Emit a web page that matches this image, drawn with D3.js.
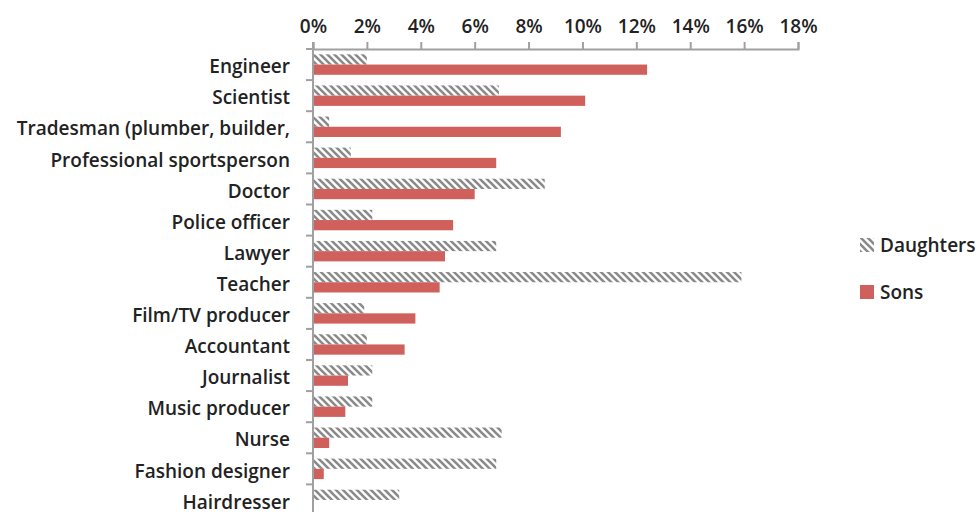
<!DOCTYPE html>
<html><head><meta charset="utf-8">
<script src="https://cdn.jsdelivr.net/npm/d3@7"></script>
<style>
body{margin:0;background:#fff;}
svg{display:block;}
text{font-family:"Open Sans",Lato,sans-serif;fill:#222;font-weight:600;}
</style></head>
<body>
<svg id="chart" width="978" height="512"></svg>
<script>
const categories = ["Engineer","Scientist","Tradesman (plumber, builder,","Professional sportsperson","Doctor","Police officer","Lawyer","Teacher","Film/TV producer","Accountant","Journalist","Music producer","Nurse","Fashion designer","Hairdresser"];
const daughters = [2.0,6.9,0.6,1.4,8.6,2.2,6.8,15.9,1.9,2.0,2.2,2.2,7.0,6.8,3.2];
const sons = [12.4,10.1,9.2,6.8,6.0,5.2,4.9,4.7,3.8,3.4,1.3,1.2,0.6,0.4,0];
const xTicks = [0,2,4,6,8,10,12,14,16,18];
const seriesNames = ["Daughters","Sons"];

const svg = d3.select("#chart");
const x0 = 313, x1 = 798, yTop = 49, band = 31.1;
const fontSize = 19;

const x = d3.scaleLinear().domain([0,18]).range([x0,x1]);
const y = d3.scaleBand().domain(categories).range([yTop, yTop + band*categories.length]).paddingInner(0).paddingOuter(0);
const inner = d3.scaleBand().domain(seriesNames).range([0, band]).paddingInner(0).paddingOuter(0.52);

const defs = svg.append("defs");
const pat = defs.append("pattern").attr("id","hatch").attr("patternUnits","userSpaceOnUse")
  .attr("width",7).attr("height",7);
pat.append("rect").attr("width",7).attr("height",7).attr("fill","#fff");
pat.append("path").attr("d","M-1,-1 L8,8 M-1,6 L1,8 M6,-1 L8,1").attr("stroke","#8a8a8a").attr("stroke-width",2.6);

const data = categories.map((c,i)=>({c, d:daughters[i], s:sons[i]}));

// bars
const g = svg.append("g");
g.selectAll("rect.d").data(data).join("rect").attr("class","d")
  .attr("x", x(0)).attr("y", d=>y(d.c)+inner("Daughters"))
  .attr("width", d=>x(d.d)-x(0)).attr("height", inner.bandwidth())
  .attr("fill","url(#hatch)");
g.selectAll("rect.s").data(data).join("rect").attr("class","s")
  .attr("x", x(0)).attr("y", d=>y(d.c)+inner("Sons"))
  .attr("width", d=>x(d.s)-x(0)).attr("height", inner.bandwidth())
  .attr("fill","#d0605b");

// top axis
const ax = svg.append("g").attr("transform",`translate(0,${yTop})`)
  .call(d3.axisTop(x).tickValues(xTicks).tickFormat(d=>d+"%").tickSize(7).tickSizeOuter(7));
ax.selectAll("path,line").attr("stroke","#a0a0a0").attr("stroke-width",2);
ax.selectAll("text").attr("font-size",fontSize).attr("dy","-0.3em")
  .style("font-family","'Open Sans'").style("font-weight",600).attr("fill","#222");

// left axis
const ay = svg.append("g").attr("transform",`translate(${x0},0)`);
ay.append("line").attr("x1",0).attr("x2",0).attr("y1",yTop-7).attr("y2",y.range()[1]).attr("stroke","#a0a0a0").attr("stroke-width",2);
const bounds = categories.map(c=>y(c)).concat([y.range()[1]]);
ay.selectAll("line.t").data(bounds).join("line").attr("class","t")
  .attr("x1",-7).attr("x2",0).attr("y1",d=>d).attr("y2",d=>d).attr("stroke","#a0a0a0").attr("stroke-width",2);
ay.selectAll("text").data(categories).join("text")
  .attr("x",-23).attr("y",c=>y(c)+band/2+2).attr("dy","0.35em")
  .attr("text-anchor","end").attr("font-size",fontSize).text(c=>c);

// legend
const leg = svg.append("g");
const legItems = [{n:"Daughters",f:"url(#hatch)",y:245},{n:"Sons",f:"#d0605b",y:292}];
leg.selectAll("rect").data(legItems).join("rect")
  .attr("x",860).attr("y",d=>d.y-7).attr("width",14).attr("height",14).attr("fill",d=>d.f);
leg.selectAll("text").data(legItems).join("text")
  .attr("x",880).attr("y",d=>d.y).attr("dy","0.35em").attr("font-size",fontSize).text(d=>d.n);
</script>
</body></html>
